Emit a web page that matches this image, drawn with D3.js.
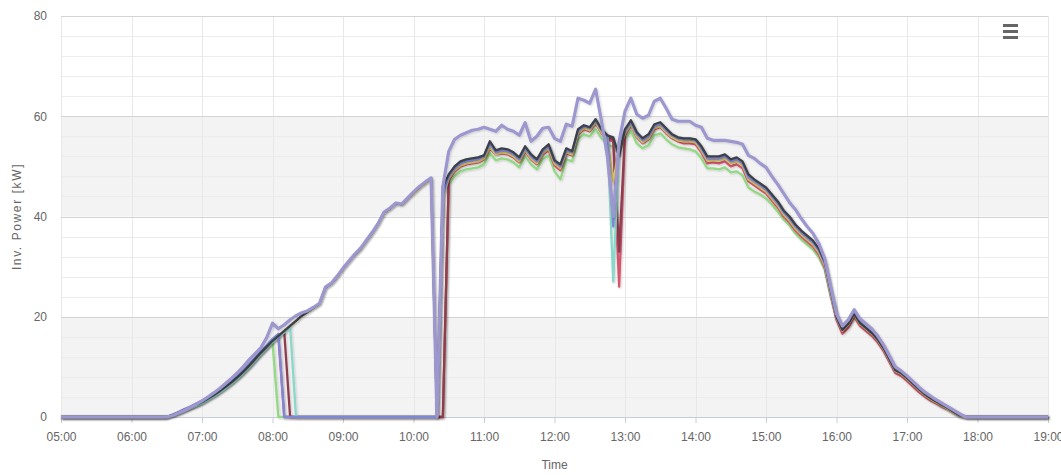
<!DOCTYPE html>
<html>
<head>
<meta charset="utf-8">
<script src="https://cdn.jsdelivr.net/npm/d3@7"></script>
<style>
  body { margin: 0; background: #fff; }
  text { font-family: "Liberation Sans", Arial, sans-serif; }
</style>
</head>
<body>
<div id="chart"></div>
<script>
// 5-minute samples from 05:00 to 19:00 (one row per hour)
var startMinute = 5 * 60, stepMinutes = 5;
var hourTicks = ["05:00","06:00","07:00","08:00","09:00","10:00","11:00","12:00","13:00","14:00","15:00","16:00","17:00","18:00","19:00"];
var yTicks = [0, 20, 40, 60, 80];

var invLavender = [
  0,0,0,0,0,0,0,0,0,0,0,0,
  0,0,0,0,0,0,0,0.3,0.8,1.3,1.9,2.5,
  3.2,4.0,4.8,5.7,6.7,7.7,8.8,10.0,11.4,12.6,13.8,15.8,
  18.7,17.6,18.4,19.4,20.2,20.8,21.2,21.9,22.7,25.9,26.7,28.1,
  29.7,31.1,32.5,33.7,35.3,36.9,38.7,40.9,41.7,42.7,42.5,43.7,
  44.9,46.0,46.9,47.7,0,46.0,53.0,55.4,56.2,56.7,57.2,57.4,
  57.8,57.4,57.0,58.2,57.4,57.0,56.2,58.7,55.0,56.0,57.6,57.8,
  55.6,55.0,58.4,58.0,63.6,63.2,62.6,65.4,59.0,52.0,40.0,55.0,
  61.0,63.6,60.4,59.6,60.2,63.0,63.6,61.6,59.4,59.0,59.0,59.0,
  58.2,57.8,55.6,55.2,55.2,55.2,55.0,54.8,54.4,52.2,51.6,50.6,
  49.8,48.0,46.4,44.6,42.8,41.4,39.6,38.0,36.6,34.6,31.6,26.0,
  20.6,18.2,19.4,21.4,19.6,18.6,17.6,16.2,14.4,12.2,10.0,9.2,
  8.2,7.1,6.0,5.0,4.2,3.4,2.7,2.0,1.3,0.6,0,0,
  0,0,0,0,0,0,0,0,0,0,0,0,
  0
];
var invDark = [
  0,0,0,0,0,0,0,0,0,0,0,0,
  0,0,0,0,0,0,0,0.4,0.9,1.4,1.9,2.4,
  3.0,3.7,4.4,5.2,6.0,6.9,7.9,9.0,10.2,11.5,12.8,14.0,
  15.2,16.2,17.2,18.2,19.2,20.2,21.0,21.8,22.6,25.8,26.6,28.0,
  29.6,31.0,32.4,33.6,35.2,36.8,38.6,40.8,41.6,42.6,42.4,43.6,
  44.8,45.9,46.8,47.6,0,46.0,48.4,50.0,51.0,51.4,51.6,51.8,
  52.2,55.0,53.2,53.6,53.4,52.8,51.8,54.0,52.4,51.4,53.4,54.4,
  51.2,50.4,53.6,53.0,57.4,58.2,57.8,59.4,57.4,56.2,55.8,52.0,
  57.4,59.2,56.8,55.6,56.4,58.4,58.8,57.6,56.4,55.8,55.6,55.6,
  55.4,54.0,52.0,52.0,52.0,52.4,51.4,51.8,51.0,48.4,47.4,46.6,
  45.8,44.4,43.0,41.2,40.0,38.4,37.2,36.2,35.2,33.6,31.0,25.4,
  20.0,17.4,18.6,20.6,18.8,17.8,16.8,15.5,13.8,11.6,9.4,8.8,
  7.8,6.7,5.6,4.6,3.8,3.1,2.4,1.8,1.0,0.3,0,0,
  0,0,0,0,0,0,0,0,0,0,0,0,
  0
];
var invYellow = [
  0,0,0,0,0,0,0,0,0,0,0,0,
  0,0,0,0,0,0,0,0.4,0.9,1.4,1.9,2.4,
  3.0,3.7,4.4,5.2,6.0,6.9,7.9,9.0,10.2,11.5,12.8,14.0,
  15.2,16.2,17.2,18.2,19.2,20.2,21.0,21.8,22.6,25.8,26.6,28.0,
  29.6,31.0,32.4,33.6,35.2,36.8,38.6,40.8,41.6,42.6,42.4,43.6,
  44.6,45.7,46.6,47.4,0,44.0,47.6,49.2,50.2,50.6,50.8,51.0,
  51.6,53.8,52.4,52.8,52.6,52.0,51.0,53.2,51.6,50.6,52.6,53.6,
  50.6,49.6,52.8,52.4,56.6,57.6,57.2,58.8,56.8,55.4,47.0,53.6,
  56.6,58.4,56.0,54.8,55.6,57.6,58.0,56.8,55.8,55.2,55.0,55.0,
  54.8,53.2,51.2,51.2,51.2,51.6,50.6,51.0,50.2,47.4,46.6,45.8,
  45.0,43.6,42.2,40.4,39.2,37.6,36.4,35.4,34.4,32.8,30.2,24.6,
  19.8,17.2,18.4,20.4,18.6,17.6,16.6,15.3,13.6,11.4,9.2,8.6,
  7.6,6.5,5.4,4.4,3.6,2.9,2.2,1.6,0.8,0.2,0,0,
  0,0,0,0,0,0,0,0,0,0,0,0,
  0
];
var invGreen = [
  0,0,0,0,0,0,0,0,0,0,0,0,
  0,0,0,0,0,0,0,0.3,0.8,1.3,1.8,2.3,
  2.8,3.5,4.2,5.0,5.8,6.7,7.7,8.8,10.0,11.3,12.6,13.8,
  15.0,0,0,0,0,0,0,0,0,0,0,0,
  0,0,0,0,0,0,0,0,0,0,0,0,
  0,0,0,0,0,0,46.4,48.0,49.0,49.4,49.6,49.8,
  50.4,52.6,51.2,51.6,51.4,50.8,49.8,52.0,50.4,49.4,51.4,52.2,
  49.0,47.4,51.4,51.0,55.4,56.4,56.0,57.4,55.6,54.4,53.8,52.4,
  55.4,57.0,54.6,53.6,54.2,56.2,56.6,55.4,54.4,53.8,53.6,53.4,
  53.0,51.6,49.6,49.6,49.4,49.8,48.8,49.0,48.2,45.8,45.0,44.4,
  43.6,42.4,41.0,39.4,38.2,36.6,35.4,34.4,33.4,31.8,29.4,24.2,
  19.6,17.2,18.4,20.2,18.4,17.4,16.4,15.1,13.4,11.2,9.0,8.4,
  7.4,6.3,5.2,4.3,3.5,2.8,2.1,1.5,0.8,0.2,0,0,
  0,0,0,0,0,0,0,0,0,0,0,0,
  0
];
var invRed = [
  0,0,0,0,0,0,0,0,0,0,0,0,
  0,0,0,0,0,0,0,0.4,0.9,1.4,1.9,2.4,
  2.9,3.6,4.3,5.1,5.9,6.8,7.8,8.9,10.1,11.4,12.7,13.9,
  15.1,16.0,0,0,0,0,0,0,0,0,0,0,
  0,0,0,0,0,0,0,0,0,0,0,0,
  0,0,0,0,0,0,47.2,49.0,50.0,50.4,50.6,50.8,
  51.4,53.6,52.4,52.6,52.4,51.8,50.8,53.0,51.4,50.4,52.4,53.2,
  50.2,49.2,52.6,52.2,56.4,57.4,57.0,58.6,56.6,55.4,55.0,26.0,
  56.2,58.2,55.8,54.6,55.4,57.4,57.8,56.6,55.6,55.0,54.6,54.6,
  54.4,52.8,50.6,50.8,50.6,51.0,50.0,50.4,49.6,47.0,46.2,45.4,
  44.6,43.2,41.8,40.0,38.8,37.2,36.0,35.0,34.0,32.4,29.8,24.4,
  19.4,16.6,17.8,20.0,18.2,17.2,16.2,14.9,13.2,11.0,8.8,8.2,
  7.2,6.1,5.0,4.1,3.3,2.7,2.0,1.5,0.8,0.2,0,0,
  0,0,0,0,0,0,0,0,0,0,0,0,
  0
];
var invMaroon = [
  0,0,0,0,0,0,0,0,0,0,0,0,
  0,0,0,0,0,0,0,0.4,0.9,1.4,1.9,2.4,
  3.0,3.7,4.4,5.2,6.0,6.9,7.9,9.0,10.2,11.5,12.8,14.0,
  15.2,16.2,16.9,0,0,0,0,0,0,0,0,0,
  0,0,0,0,0,0,0,0,0,0,0,0,
  0,0,0,0,0,0,47.6,49.4,50.4,50.8,51.0,51.2,
  51.8,54.2,52.6,53.0,52.8,52.2,51.2,53.4,51.8,50.8,52.8,53.8,
  50.8,49.8,53.0,52.6,56.8,57.8,57.4,59.0,57.0,55.8,55.4,33.0,
  56.8,58.6,56.2,55.0,55.8,57.8,58.2,57.0,56.0,55.4,55.2,55.2,
  55.0,53.4,51.4,51.4,51.4,51.8,50.8,51.2,50.4,47.6,46.8,46.0,
  45.2,43.8,42.4,40.6,39.4,37.8,36.6,35.6,34.6,33.0,30.4,24.8,
  19.8,17.2,18.4,20.4,18.6,17.6,16.6,15.3,13.6,11.4,9.2,8.6,
  7.6,6.5,5.4,4.4,3.6,2.9,2.2,1.6,0.9,0.3,0,0,
  0,0,0,0,0,0,0,0,0,0,0,0,
  0
];
var invTeal = [
  0,0,0,0,0,0,0,0,0,0,0,0,
  0,0,0,0,0,0,0.1,0.4,0.8,1.3,1.8,2.2,
  2.7,3.4,4.1,4.9,5.7,6.6,7.6,8.7,9.9,11.2,12.5,13.7,
  14.9,15.9,16.9,18.0,0,0,0,0,0,0,0,0,
  0,0,0,0,0,0,0,0,0,0,0,0,
  0,0,0,0,0,44.0,48.4,50.0,51.0,51.4,51.6,51.8,
  52.2,54.4,53.0,53.4,53.2,52.6,51.6,53.8,52.2,51.2,53.2,54.2,
  51.2,50.2,53.4,53.0,57.2,58.2,57.8,59.4,57.4,56.2,27.0,55.0,
  57.2,59.0,56.6,55.4,56.2,58.2,58.6,57.4,56.4,55.8,55.6,55.6,
  55.4,53.8,51.8,51.8,51.8,52.2,51.2,51.6,50.8,48.0,47.2,46.4,
  45.6,44.2,42.8,41.0,39.8,38.2,37.0,36.0,35.0,33.4,30.8,25.2,
  20.2,17.6,18.8,20.8,19.0,18.0,17.0,15.7,14.0,11.8,9.6,9.0,
  8.0,6.9,5.8,4.8,4.0,3.3,2.6,2.0,1.2,0.5,0,0,
  0,0,0,0,0,0,0,0,0,0,0,0,
  0
];
var invViolet = [
  0,0,0,0,0,0,0,0,0,0,0,0,
  0,0,0,0,0,0,0,0.5,1.0,1.6,2.1,2.7,
  3.3,4.0,4.7,5.5,6.3,7.2,8.2,9.3,10.5,11.8,13.1,14.3,
  15.6,16.6,0,0,0,0,0,0,0,0,0,0,
  0,0,0,0,0,0,0,0,0,0,0,0,
  0,0,0,0,0,44.5,48.0,49.6,50.6,51.0,51.2,51.4,
  52.0,54.6,52.8,53.2,53.0,52.4,51.4,53.6,52.0,51.0,53.0,54.0,
  51.0,50.0,53.2,52.8,57.0,58.0,57.6,59.2,57.2,56.0,38.0,55.0,
  57.0,58.8,56.4,55.2,56.0,58.0,58.4,57.2,56.2,55.6,55.4,55.4,
  55.2,53.6,51.6,51.6,51.6,52.0,51.0,51.4,50.6,47.8,47.0,46.2,
  45.4,44.0,42.6,40.8,39.6,38.0,36.8,35.8,34.8,33.2,30.6,25.0,
  20.0,17.4,18.6,20.6,18.8,17.8,16.8,15.5,13.8,11.6,9.4,8.8,
  7.8,6.7,5.6,4.6,3.8,3.1,2.4,1.8,1.0,0.3,0,0,
  0,0,0,0,0,0,0,0,0,0,0,0,
  0
];

// drawing order: last one ends up on top
var series = [
  {name: "Inv 3", values: invGreen,  color: "#93d985", width: 2.3},
  {name: "Inv 4", values: invRed,    color: "#d65670", width: 2.3},
  {name: "Inv 5", values: invMaroon, color: "#8e3c50", width: 2.3},
  {name: "Inv 6", values: invYellow, color: "#dcc760", width: 2.3},
  {name: "Inv 7", values: invTeal,   color: "#8ad8c9", width: 2.3},
  {name: "Inv 8", values: invViolet, color: "#7f88d8", width: 2.3},
  {name: "Inv 2", values: invDark,   color: "#3e4049", width: 2.3},
  {name: "Inv 1", values: invLavender, color: "#9d97cf", width: 3.2}
];

var full_width = 1061, full_height = 475;
var margin = {top: 16, right: 13, bottom: 58, left: 61};
var width = full_width - margin.left - margin.right,
    height = full_height - margin.top - margin.bottom;

var svg = d3.select("#chart")
  .append("svg")
  .attr("width", full_width)
  .attr("height", full_height);

var defs = svg.append("defs");
var shadow = defs.append("filter").attr("id", "shadow")
  .attr("x", "-5%").attr("y", "-5%").attr("width", "110%").attr("height", "110%");
shadow.append("feDropShadow")
  .attr("dx", 1).attr("dy", 1).attr("stdDeviation", 1)
  .attr("flood-color", "#000").attr("flood-opacity", 0.18);

var g = svg.append("g")
  .attr("transform", "translate(" + margin.left + "," + margin.top + ")");

// x is minutes since midnight
var x = d3.scaleLinear()
  .domain([5 * 60, 19 * 60])
  .range([0, width]);

var y = d3.scaleLinear()
  .domain([0, 80])
  .range([height, 0]);

function toMinutes(label) {
  var p = label.split(":");
  return +p[0] * 60 + +p[1];
}

// plot bands 0-20 and 40-60
[[0, 20], [40, 60]].forEach(function(b) {
  g.append("rect")
    .attr("x", 0)
    .attr("y", y(b[1]))
    .attr("width", width)
    .attr("height", y(b[0]) - y(b[1]))
    .style("fill", "#f3f3f3");
});

// minor horizontal grid
g.append("g")
  .selectAll("line")
  .data(d3.range(0, 81, 4).filter(function(v) { return v % 20 != 0; }))
  .enter().append("line")
  .attr("x1", 0).attr("x2", width)
  .attr("y1", function(d) { return Math.round(y(d)) + 0.5; })
  .attr("y2", function(d) { return Math.round(y(d)) + 0.5; })
  .style("stroke", "#ececec")
  .style("stroke-width", 1);

// vertical grid at each hour
g.append("g")
  .selectAll("line")
  .data(hourTicks)
  .enter().append("line")
  .attr("x1", function(d) { return Math.round(x(toMinutes(d))) + 0.5; })
  .attr("x2", function(d) { return Math.round(x(toMinutes(d))) + 0.5; })
  .attr("y1", 0).attr("y2", height)
  .style("stroke", "#e8e8e8")
  .style("stroke-width", 1);

// major horizontal grid
g.append("g")
  .selectAll("line")
  .data(yTicks)
  .enter().append("line")
  .attr("x1", 0).attr("x2", width)
  .attr("y1", function(d) { return Math.round(y(d)) + 0.5; })
  .attr("y2", function(d) { return Math.round(y(d)) + 0.5; })
  .style("stroke", "#d4d4d4")
  .style("stroke-width", 1);

// Y axis labels
var yAxis = g.append("g")
  .call(d3.axisLeft(y).tickValues(yTicks).tickSize(0).tickPadding(14));
yAxis.select(".domain").remove();
yAxis.selectAll("text")
  .style("font-size", "12px")
  .style("fill", "#666")
  .style("font-family", "'Liberation Sans', Arial, sans-serif");

// X axis
var xAxis = g.append("g")
  .attr("transform", "translate(0," + height + ")")
  .call(d3.axisBottom(x)
    .tickValues(hourTicks.map(toMinutes))
    .tickFormat(function(d, i) { return hourTicks[i]; })
    .tickSize(6)
    .tickPadding(9));
xAxis.select(".domain").style("stroke", "#c8ccd6");
xAxis.selectAll(".tick line").style("stroke", "#c8ccd6");
xAxis.selectAll("text")
  .style("font-size", "12px")
  .style("fill", "#666")
  .style("font-family", "'Liberation Sans', Arial, sans-serif");

// lines
var line = d3.line()
  .x(function(d, i) { return x(startMinute + i * stepMinutes); })
  .y(function(d) { return y(d); });

g.append("g")
  .selectAll("path")
  .data(series)
  .enter().append("path")
  .attr("d", function(s) { return line(s.values); })
  .style("fill", "none")
  .style("stroke", function(s) { return s.color; })
  .style("stroke-width", function(s) { return s.width; })
  .style("stroke-linejoin", "round")
  .attr("filter", "url(#shadow)");

// axis titles
svg.append("text")
  .attr("transform", "translate(" + (margin.left + width / 2) + "," + 469 + ")")
  .style("text-anchor", "middle")
  .style("font-size", "12px")
  .style("fill", "#666")
  .text("Time");

svg.append("text")
  .attr("transform", "translate(21," + (margin.top + height / 2) + ") rotate(-90)")
  .style("text-anchor", "middle")
  .style("font-size", "12px")
  .style("letter-spacing", "1.6px")
  .style("fill", "#666")
  .text("Inv. Power [kW]");

// context menu icon
svg.append("g")
  .selectAll("rect")
  .data([0, 1, 2])
  .enter().append("rect")
  .attr("x", 1003)
  .attr("y", function(d) { return 24 + d * 6; })
  .attr("width", 15)
  .attr("height", 3)
  .style("fill", "#666");
</script>
</body>
</html>
